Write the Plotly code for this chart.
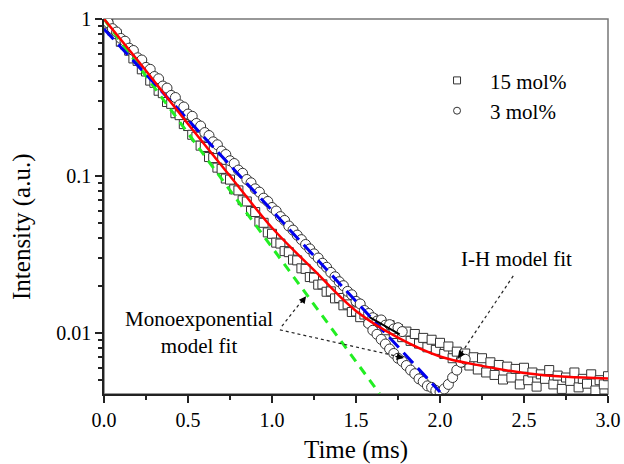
import plotly.graph_objects as go

# 15 mol% (squares)
sq_t = [0.000, 0.025, 0.050, 0.075, 0.100, 0.125, 0.150, 0.175, 0.200, 0.225,
        0.250, 0.275, 0.300, 0.325, 0.350, 0.375, 0.400, 0.425, 0.450, 0.475,
        0.500, 0.525, 0.550, 0.575, 0.600, 0.625, 0.650, 0.675, 0.700, 0.725,
        0.750, 0.775, 0.800, 0.825, 0.850, 0.875, 0.900, 0.925, 0.950, 0.975,
        1.000, 1.025, 1.050, 1.075, 1.100, 1.125, 1.150, 1.175, 1.200, 1.225,
        1.250, 1.275, 1.300, 1.325, 1.350, 1.375, 1.400, 1.425, 1.450, 1.475,
        1.500, 1.525, 1.550, 1.575, 1.600, 1.625, 1.650, 1.675, 1.700, 1.725,
        1.750, 1.775, 1.800, 1.825, 1.850, 1.875, 1.900, 1.925, 1.950, 1.975,
        2.000, 2.025, 2.050, 2.075, 2.100, 2.125, 2.150, 2.175, 2.200, 2.225,
        2.250, 2.275, 2.300, 2.325, 2.350, 2.375, 2.400, 2.425, 2.450, 2.475,
        2.500, 2.525, 2.550, 2.575, 2.600, 2.625, 2.650, 2.675, 2.700, 2.725,
        2.750, 2.775, 2.800, 2.825, 2.850, 2.875, 2.900, 2.925, 2.950, 2.975,
        3.000]
sq_i = [0.985, 0.935, 0.842, 0.801, 0.716, 0.688, 0.628, 0.561, 0.541, 0.478,
        0.463, 0.405, 0.392, 0.349, 0.337, 0.296, 0.288, 0.251, 0.244, 0.214,
        0.208, 0.183, 0.178, 0.156, 0.153, 0.132, 0.130, 0.113, 0.111, 0.0963,
        0.0948, 0.0822, 0.0809, 0.0701, 0.0688, 0.0598, 0.0589, 0.0511, 0.0503, 0.0437,
        0.0428, 0.0376, 0.0371, 0.0332, 0.0327, 0.0293, 0.0290, 0.0258, 0.0256, 0.0227,
        0.0225, 0.0203, 0.0204, 0.0183, 0.0184, 0.0166, 0.0167, 0.0150, 0.0152, 0.0136,
        0.0137, 0.0126, 0.0131, 0.0118, 0.0123, 0.0111, 0.0116, 0.0104, 0.0112, 0.00985,
        0.0106, 0.00940, 0.0102, 0.00890, 0.00985, 0.00855, 0.00930, 0.00810, 0.00905, 0.00780,
        0.00865, 0.00735, 0.00820, 0.00690, 0.00760, 0.00650, 0.00740, 0.00620, 0.00700, 0.00585,
        0.00690, 0.00560, 0.00650, 0.00540, 0.00625, 0.00505, 0.00610, 0.00520, 0.00590, 0.00470,
        0.00600, 0.00500, 0.00560, 0.00455, 0.00545, 0.00510, 0.00580, 0.00470, 0.00535, 0.00440,
        0.00520, 0.00495, 0.00560, 0.00450, 0.00510, 0.00475, 0.00545, 0.00430, 0.00500, 0.00470,
        0.00530]

# 3 mol% (circles)
ci_t = [0.000, 0.025, 0.050, 0.075, 0.100, 0.125, 0.150, 0.175, 0.200, 0.225,
        0.250, 0.275, 0.300, 0.325, 0.350, 0.375, 0.400, 0.425, 0.450, 0.475,
        0.500, 0.525, 0.550, 0.575, 0.600, 0.625, 0.650, 0.675, 0.700, 0.725,
        0.750, 0.775, 0.800, 0.825, 0.850, 0.875, 0.900, 0.925, 0.950, 0.975,
        1.000, 1.025, 1.050, 1.075, 1.100, 1.125, 1.150, 1.175, 1.200, 1.225,
        1.250, 1.275, 1.300, 1.325, 1.350, 1.375, 1.400, 1.425, 1.450, 1.475,
        1.500, 1.525, 1.550, 1.575, 1.575, 1.600, 1.600, 1.625, 1.625, 1.650,
        1.650, 1.675, 1.675, 1.700, 1.700, 1.725, 1.725, 1.750, 1.750, 1.775,
        1.775, 1.800, 1.825, 1.850, 1.875, 1.900, 1.925, 1.950, 1.975, 2.000,
        2.025, 2.050, 2.075, 2.100, 2.125, 2.150]
ci_i = [0.990, 0.945, 0.868, 0.826, 0.752, 0.722, 0.652, 0.630, 0.566, 0.548,
        0.492, 0.478, 0.430, 0.416, 0.374, 0.363, 0.326, 0.316, 0.284, 0.275,
        0.248, 0.240, 0.216, 0.208, 0.189, 0.181, 0.165, 0.158, 0.144, 0.137,
        0.125, 0.120, 0.109, 0.104, 0.0950, 0.0905, 0.0828, 0.0789, 0.0722, 0.0688,
        0.0630, 0.0598, 0.0551, 0.0521, 0.0480, 0.0452, 0.0420, 0.0393, 0.0366, 0.0343,
        0.0319, 0.0300, 0.0278, 0.0262, 0.0243, 0.0228, 0.0212, 0.0200, 0.0184, 0.0175,
        0.0159, 0.0153, 0.0139, 0.0133, 0.0115, 0.0125, 0.0104, 0.0119, 0.0098, 0.0121,
        0.0091, 0.0112, 0.0085, 0.0113, 0.0079, 0.0106, 0.0074, 0.0108, 0.0069, 0.0102,
        0.0066, 0.0062, 0.0058, 0.0055, 0.0051, 0.0049, 0.0046, 0.0045, 0.0043, 0.0042,
        0.0044, 0.0047, 0.0052, 0.0058, 0.0065, 0.0068]

# fit curves
ih_t = [0.0, 0.25, 0.5, 0.75, 1.0, 1.25, 1.5, 1.75, 2.0, 2.25, 2.5, 2.75, 3.0]
ih_i = [1.0, 0.468, 0.214, 0.100, 0.0468, 0.0251, 0.0138, 0.00933, 0.00708,
        0.00617, 0.00556, 0.00525, 0.00513]
mono15_t = [0.0, 1.64]
mono15_i = [1.0, 0.00411]
mono3_t = [0.0, 2.0]
mono3_i = [0.863, 0.0042]
seg_t = [1.58, 1.76]
seg_i = [0.0126, 0.0098]

FONT = "Liberation Serif"

fig = go.Figure()
fig.add_trace(go.Scatter(x=sq_t, y=sq_i, mode="markers", showlegend=False,
                         marker=dict(symbol="square", size=9, color="white",
                                     line=dict(color="#333", width=1))))
fig.add_trace(go.Scatter(x=ci_t, y=ci_i, mode="markers", showlegend=False,
                         marker=dict(symbol="circle", size=10, color="white",
                                     line=dict(color="#333", width=1))))
fig.add_trace(go.Scatter(x=mono15_t, y=mono15_i, mode="lines", showlegend=False,
                         line=dict(color="#22ee22", width=3, dash="9px,7px")))
fig.add_trace(go.Scatter(x=mono3_t, y=mono3_i, mode="lines", showlegend=False,
                         line=dict(color="#0000ee", width=3, dash="14px,7px")))
fig.add_trace(go.Scatter(x=ih_t, y=ih_i, mode="lines", showlegend=False,
                         line=dict(color="#ff0000", width=2.5, shape="spline")))
fig.add_trace(go.Scatter(x=seg_t, y=seg_i, mode="lines", showlegend=False,
                         line=dict(color="black", width=2)))

# legend entries (smaller symbols than the data)
fig.add_trace(go.Scatter(x=[None], y=[None], mode="markers", name="15 mol%",
                         marker=dict(symbol="square", size=7, color="white",
                                     line=dict(color="#333", width=1))))
fig.add_trace(go.Scatter(x=[None], y=[None], mode="markers", name="3 mol%",
                         marker=dict(symbol="circle", size=7, color="white",
                                     line=dict(color="#333", width=1))))

# dotted pointer lines (paper coords) + arrow heads
pointers = [(0.353, 0.181, 0.397, 0.256), (0.349, 0.171, 0.587, 0.099),
            (0.812, 0.315, 0.708, 0.107)]
for x0, y0, x1, y1 in pointers:
    fig.add_shape(type="line", xref="paper", yref="paper", x0=x0, y0=y0, x1=x1, y1=y1,
                  line=dict(color="#222", width=1.2, dash="dot"))
heads = [(0.401, 0.261, -6, 8), (0.595, 0.096, -10, -2), (0.702, 0.096, 6, -8)]
for x, y, ax, ay in heads:
    fig.add_annotation(x=x, y=y, xref="paper", yref="paper", ax=ax, ay=ay, text="",
                       showarrow=True, arrowhead=2, arrowsize=1.2, arrowwidth=1.2,
                       arrowcolor="black")

txt = dict(xref="paper", yref="paper", showarrow=False, xanchor="center", yanchor="middle")
fig.add_annotation(x=0.188, y=0.163, text="Monoexponential<br>model fit",
                   font=dict(family=FONT, size=21, color="black"), **txt)
fig.add_annotation(x=0.819, y=0.36, text="I-H model fit",
                   font=dict(family=FONT, size=21, color="black"), **txt)
fig.add_annotation(x=-0.163, y=0.445, text="Intensity (a.u.)", textangle=-90,
                   font=dict(family=FONT, size=25, color="black"), **txt)
fig.add_annotation(x=0.5, y=-0.149, text="Time (ms)",
                   font=dict(family=FONT, size=25, color="black"), **txt)

# frame (top/right in grey)
fig.add_shape(type="rect", xref="paper", yref="paper", x0=0, y0=0, x1=1, y1=1,
              line=dict(color="#777", width=1.5), layer="below")

fig.update_layout(
    width=624, height=464,
    margin=dict(l=104, r=16, t=19, b=70),
    paper_bgcolor="white", plot_bgcolor="white",
    font=dict(family=FONT, size=20, color="black"),
    legend=dict(x=0.635, y=0.89, xanchor="left", yanchor="top",
                font=dict(family=FONT, size=21), bgcolor="rgba(0,0,0,0)",
                itemwidth=56, tracegroupgap=0),
    xaxis=dict(range=[0, 3], tickvals=[0, 0.5, 1.0, 1.5, 2.0, 2.5, 3.0],
               ticktext=["0.0", "0.5", "1.0", "1.5", "2.0", "2.5", "3.0"],
               ticks="outside", ticklen=7, tickwidth=1.5, tickcolor="#222",
               showline=True, linecolor="#222", linewidth=1.5, showgrid=False,
               zeroline=False, automargin=False,
               minor=dict(tickvals=[0.25, 0.75, 1.25, 1.75, 2.25, 2.75],
                          ticks="outside", ticklen=4, tickwidth=1.5, tickcolor="#222")),
    yaxis=dict(type="log", range=[-2.389, 0], tickvals=[0.01, 0.1, 1],
               ticktext=["0.01", "0.1", "1"],
               ticks="outside", ticklen=7, tickwidth=1.5, tickcolor="#222",
               showline=True, linecolor="#222", linewidth=1.5, showgrid=False,
               zeroline=False, automargin=False,
               minor=dict(tickvals=[0.005, 0.006, 0.007, 0.008, 0.009,
                                    0.02, 0.03, 0.04, 0.05, 0.06, 0.07, 0.08, 0.09,
                                    0.2, 0.3, 0.4, 0.5, 0.6, 0.7, 0.8, 0.9],
                          ticks="outside", ticklen=4, tickwidth=1.5, tickcolor="#222")),
)

fig.write_html("out.html", config={"displayModeBar": False},
               post_script="document.body.style.margin='0';")
